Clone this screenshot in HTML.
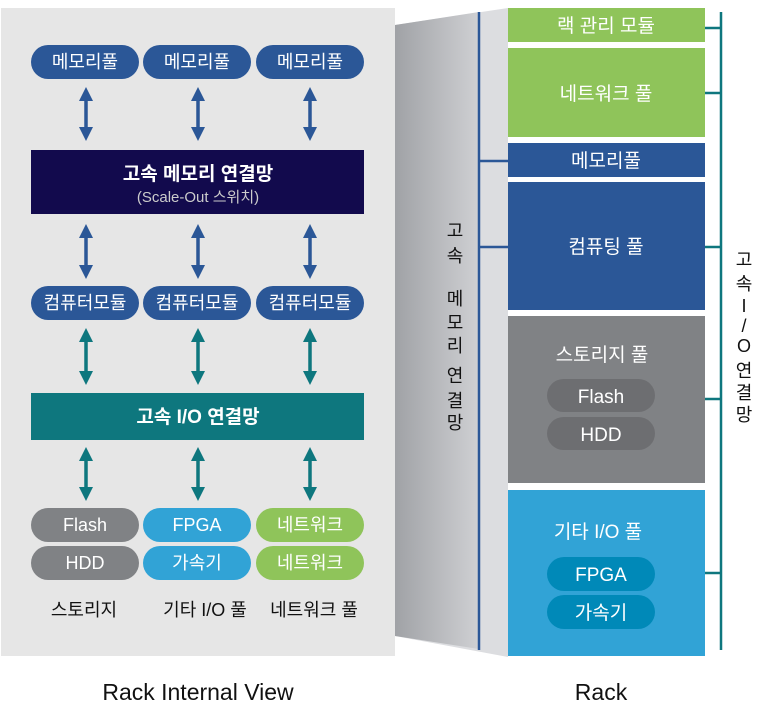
<!DOCTYPE html>
<html><head><meta charset="utf-8">
<style>
html,body{margin:0;padding:0;background:#fff;}
svg text{font-family:"Liberation Sans","Noto Sans CJK KR",sans-serif;}
</style></head>
<body>
<svg width="757" height="708" viewBox="0 0 757 708" xmlns="http://www.w3.org/2000/svg">
<defs>
<linearGradient id="g" x1="0" x2="1" y1="0" y2="0">
<stop offset="0" stop-color="#a0a2a6"/><stop offset="1" stop-color="#cfd0d3"/>
</linearGradient>
<marker id="ab" viewBox="0 0 10 10" refX="5" refY="5" markerWidth="4" markerHeight="4" orient="auto-start-reverse"><path d="M0,0 L10,5 L0,10 z" fill="#2b5797"/></marker>
<marker id="at" viewBox="0 0 10 10" refX="5" refY="5" markerWidth="4" markerHeight="4" orient="auto-start-reverse"><path d="M0,0 L10,5 L0,10 z" fill="#0e777e"/></marker>
</defs>
<rect x="1" y="8" width="394" height="648" fill="#e6e6e6"/>
<polygon points="395,25 508,8 508,657 395,636" fill="#dcdde0"/>
<polygon points="395,25 479,12 479,649 395,636" fill="url(#g)"/>
<line x1="479" y1="12" x2="479" y2="650" stroke="#2b5797" stroke-width="2.5"/>
<line x1="479" y1="161" x2="508" y2="161" stroke="#2b5797" stroke-width="2.5"/>
<line x1="479" y1="247" x2="508" y2="247" stroke="#2b5797" stroke-width="2.5"/>
<g font-size="18" fill="#111" text-anchor="middle">
<text x="455" y="237">고</text><text x="455" y="262">속</text>
<text x="455" y="305">메</text><text x="455" y="329">모</text><text x="455" y="352">리</text>
<text x="455" y="382">연</text><text x="455" y="407">결</text><text x="455" y="429">망</text>
<text x="744" y="266">고</text><text x="744" y="290">속</text><text x="744" y="312">I</text>
<text x="744" y="332">/</text><text x="744" y="352">O</text><text x="744" y="377">연</text>
<text x="744" y="399">결</text><text x="744" y="421">망</text>
</g>
<line x1="721" y1="12" x2="721" y2="650" stroke="#0e777e" stroke-width="2.5"/>
<g stroke="#0e777e" stroke-width="2.5">
<line x1="705" y1="28" x2="721" y2="28"/><line x1="705" y1="93" x2="721" y2="93"/>
<line x1="705" y1="247" x2="721" y2="247"/><line x1="705" y1="399" x2="721" y2="399"/>
<line x1="705" y1="573" x2="721" y2="573"/>
</g>
<g font-size="19" fill="#fff" text-anchor="middle">
<rect x="508" y="8" width="197" height="34" fill="#8fc45a"/><text x="606" y="32">랙 관리 모듈</text>
<rect x="508" y="48" width="197" height="89" fill="#8fc45a"/><text x="606" y="100">네트워크 풀</text>
<rect x="508" y="143" width="197" height="34" fill="#2b5797"/><text x="606" y="167">메모리풀</text>
<rect x="508" y="182" width="197" height="128" fill="#2b5797"/><text x="606" y="253">컴퓨팅 풀</text>
<rect x="508" y="316" width="197" height="167" fill="#808285"/><text x="602" y="361">스토리지 풀</text>
<rect x="547" y="379" width="108" height="33" rx="16.5" fill="#6d6e71"/><text x="601" y="403">Flash</text>
<rect x="547" y="417" width="108" height="33" rx="16.5" fill="#6d6e71"/><text x="601" y="441">HDD</text>
<rect x="508" y="490" width="197" height="166" fill="#31a3d6"/><text x="598" y="538">기타 I/O 풀</text>
<rect x="547" y="557" width="108" height="34" rx="17" fill="#0089b8"/><text x="601" y="581">FPGA</text>
<rect x="547" y="595" width="108" height="34" rx="17" fill="#0089b8"/><text x="601" y="619">가속기</text>
</g>
<g font-size="18" fill="#fff" text-anchor="middle">
<rect x="31" y="45" width="108" height="34" rx="17" fill="#2b5797"/><text x="85" y="68">메모리풀</text>
<rect x="143" y="45" width="108" height="34" rx="17" fill="#2b5797"/><text x="197" y="68">메모리풀</text>
<rect x="256" y="45" width="108" height="34" rx="17" fill="#2b5797"/><text x="310" y="68">메모리풀</text>
<rect x="31" y="150" width="333" height="64" fill="#120a4d"/>
<text x="198" y="180" font-weight="bold" font-size="19">고속 메모리 연결망</text>
<text x="198" y="202" font-size="15" fill="#ccc">(Scale-Out 스위치)</text>
<rect x="31" y="286" width="108" height="34" rx="17" fill="#2b5797"/><text x="85" y="309">컴퓨터모듈</text>
<rect x="143" y="286" width="108" height="34" rx="17" fill="#2b5797"/><text x="197" y="309">컴퓨터모듈</text>
<rect x="256" y="286" width="108" height="34" rx="17" fill="#2b5797"/><text x="310" y="309">컴퓨터모듈</text>
<rect x="31" y="393" width="333" height="47" fill="#0e777e"/>
<text x="198" y="423" font-weight="bold" font-size="19">고속 I/O 연결망</text>
<rect x="31" y="508" width="108" height="34" rx="17" fill="#808285"/><text x="85" y="531">Flash</text>
<rect x="31" y="546" width="108" height="34" rx="17" fill="#808285"/><text x="85" y="569">HDD</text>
<rect x="143" y="508" width="108" height="34" rx="17" fill="#31a3d6"/><text x="197" y="531">FPGA</text>
<rect x="143" y="546" width="108" height="34" rx="17" fill="#31a3d6"/><text x="197" y="569">가속기</text>
<rect x="256" y="508" width="108" height="34" rx="17" fill="#8fc45a"/><text x="310" y="531">네트워크</text>
<rect x="256" y="546" width="108" height="34" rx="17" fill="#8fc45a"/><text x="310" y="569">네트워크</text>
</g>
<g stroke="#2b5797" stroke-width="3.5">
<line x1="86" y1="94" x2="86" y2="134" marker-start="url(#ab)" marker-end="url(#ab)"/>
<line x1="198" y1="94" x2="198" y2="134" marker-start="url(#ab)" marker-end="url(#ab)"/>
<line x1="310" y1="94" x2="310" y2="134" marker-start="url(#ab)" marker-end="url(#ab)"/>
<line x1="86" y1="231" x2="86" y2="272" marker-start="url(#ab)" marker-end="url(#ab)"/>
<line x1="198" y1="231" x2="198" y2="272" marker-start="url(#ab)" marker-end="url(#ab)"/>
<line x1="310" y1="231" x2="310" y2="272" marker-start="url(#ab)" marker-end="url(#ab)"/>
</g>
<g stroke="#0e777e" stroke-width="3.5">
<line x1="86" y1="335" x2="86" y2="378" marker-start="url(#at)" marker-end="url(#at)"/>
<line x1="198" y1="335" x2="198" y2="378" marker-start="url(#at)" marker-end="url(#at)"/>
<line x1="310" y1="335" x2="310" y2="378" marker-start="url(#at)" marker-end="url(#at)"/>
<line x1="86" y1="454" x2="86" y2="494" marker-start="url(#at)" marker-end="url(#at)"/>
<line x1="198" y1="454" x2="198" y2="494" marker-start="url(#at)" marker-end="url(#at)"/>
<line x1="310" y1="454" x2="310" y2="494" marker-start="url(#at)" marker-end="url(#at)"/>
</g>
<g font-size="18" fill="#111" text-anchor="middle">
<text x="84" y="616">스토리지</text>
<text x="205" y="616">기타 I/O 풀</text>
<text x="314" y="616">네트워크 풀</text>
</g>
<g font-size="23" fill="#111" text-anchor="middle">
<text x="198" y="700">Rack Internal View</text>
<text x="601" y="700">Rack</text>
</g>
</svg>
</body></html>
